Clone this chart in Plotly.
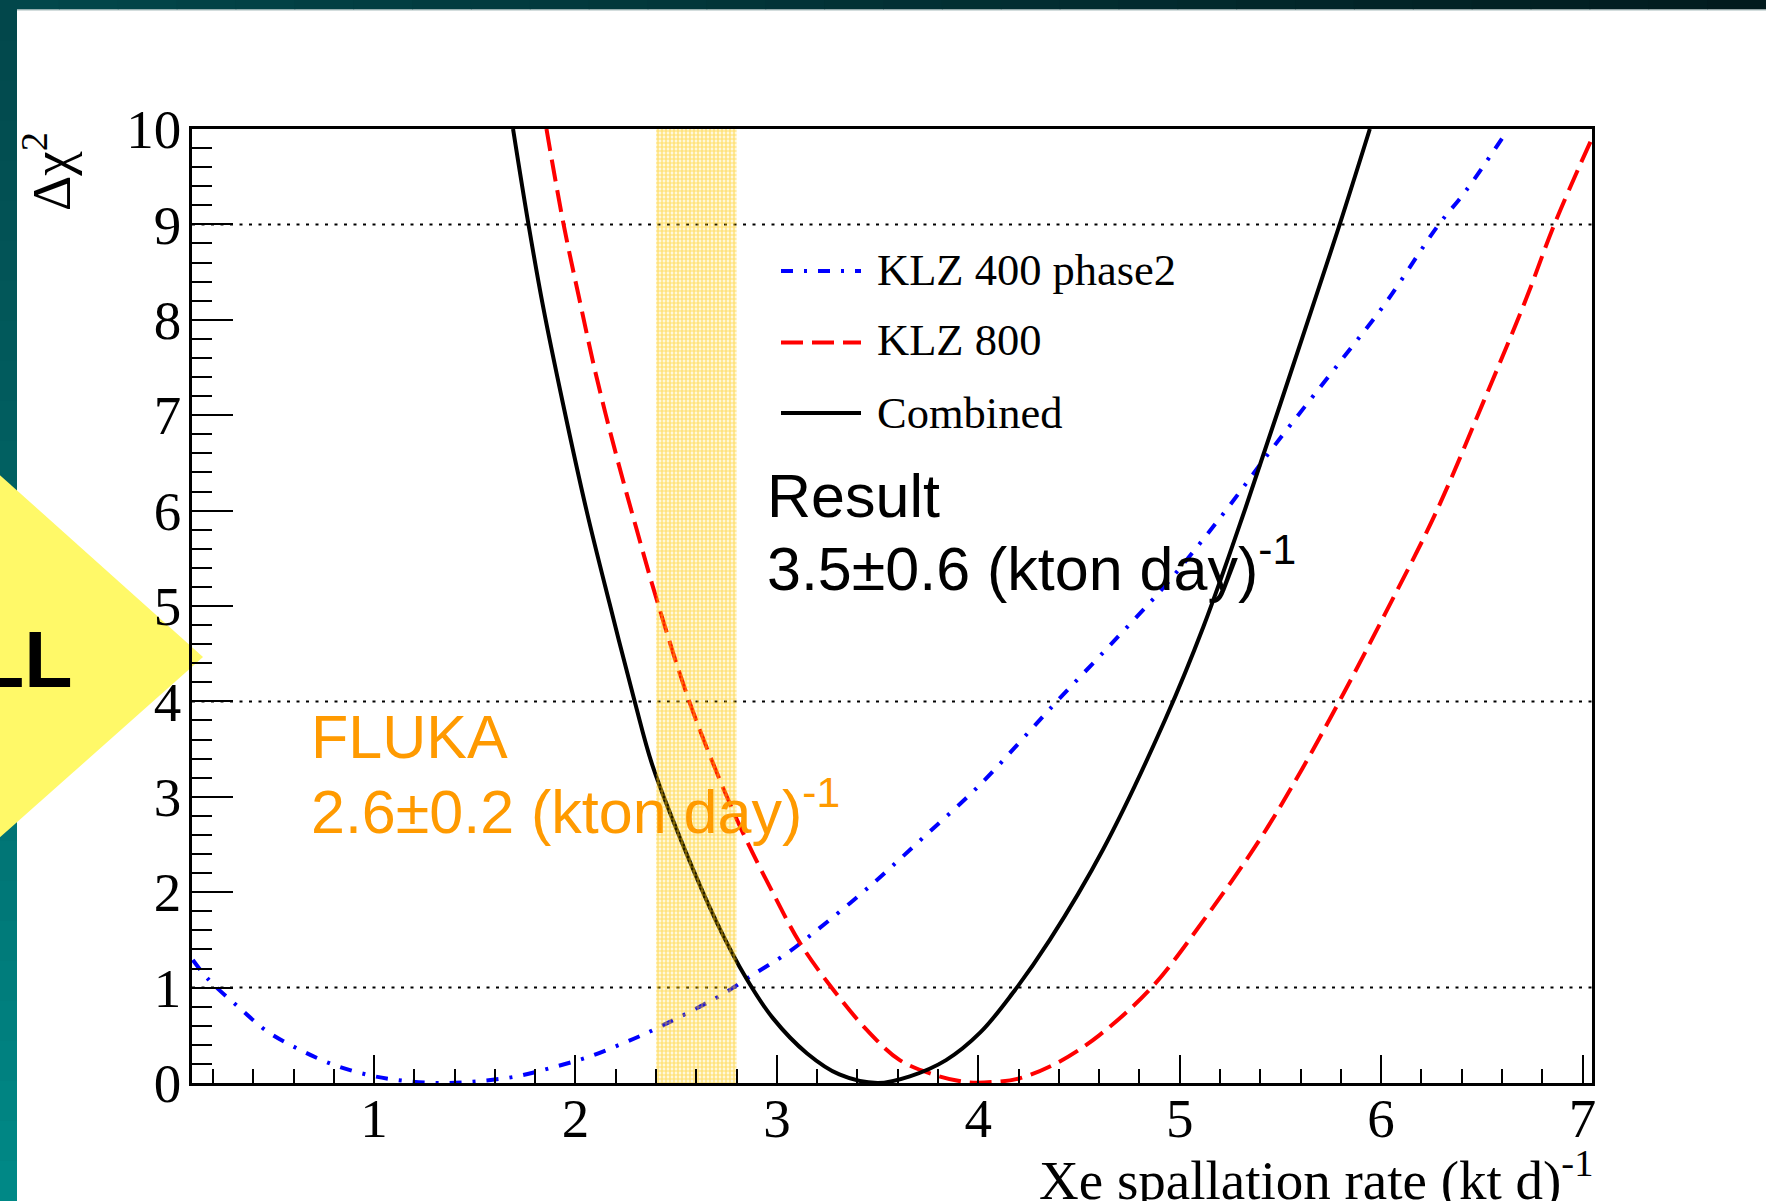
import plotly.graph_objects as go

# Delta chi^2 profiles versus the Xe spallation production rate
klz400_x = [0.10, 0.18, 0.33, 0.47, 0.63, 0.80, 0.98, 1.16, 1.34, 1.52, 1.71, 1.88,
            2.06, 2.24, 2.40, 2.73, 2.87, 3.05, 3.18, 3.46, 3.73, 4.01, 4.26, 4.39,
            4.65, 4.93, 5.21, 5.47, 5.80, 6.02, 6.28, 6.42, 6.60]
klz400_y = [1.29, 1.08, 0.79, 0.54, 0.35, 0.19, 0.08, 0.02, 0.00, 0.02, 0.07, 0.16,
            0.27, 0.42, 0.57, 0.93, 1.12, 1.36, 1.57, 2.06, 2.58, 3.13, 3.70, 4.00,
            4.58, 5.22, 5.95, 6.68, 7.57, 8.17, 8.98, 9.35, 9.90]

klz800_x = [1.856, 1.94, 2.02, 2.10, 2.20, 2.30, 2.41, 2.565, 2.716, 2.832, 2.981,
            3.114, 3.279, 3.445, 3.61, 3.776, 3.94, 4.07, 4.206, 4.40, 4.60, 4.86,
            5.12, 5.40, 5.61, 5.80, 6.02, 6.27, 6.51, 6.72, 6.86, 7.04]
klz800_y = [10.0, 9.01, 8.21, 7.44, 6.60, 5.83, 5.02, 4.00, 3.18, 2.62, 1.99,
            1.47, 0.98, 0.56, 0.24, 0.09, 0.01, 0.01, 0.05, 0.22, 0.50, 1.00,
            1.71, 2.56, 3.30, 4.03, 4.92, 5.97, 7.15, 8.22, 9.00, 9.87]

combined_x = [1.69, 1.765, 1.839, 1.938, 2.055, 2.17, 2.294, 2.385, 2.55, 2.70, 2.85,
              2.98, 3.15, 3.31, 3.50, 3.66, 3.84, 4.01, 4.17, 4.355, 4.62, 4.928,
              5.119, 5.327, 5.50, 5.657, 5.796, 5.944]
combined_y = [10.0, 9.02, 8.14, 7.12, 6.00, 5.02, 4.00, 3.31, 2.41, 1.69, 1.09,
              0.68, 0.31, 0.09, 0.00, 0.07, 0.24, 0.53, 0.94, 1.50, 2.45, 3.81,
              4.79, 6.03, 7.12, 8.12, 9.01, 10.0]

sigma_levels = [1, 4, 9]
legend_names = ["KLZ 400 phase2", "KLZ 800", "Combined"]

fluka_rate, fluka_err = 2.6, 0.2
result_rate, result_err = 3.5, 0.6

X_RANGE = [0.096, 7.047]
Y_RANGE = [0, 10]

# canvas / frame geometry (pixels)
FIG_W, FIG_H = 1766, 1201
PL, PR, PT, PB = 192, 1592, 129, 1083


def px(X):
    return (X - PL) / (PR - PL)


def py(Y):
    return (PB - Y) / (PB - PT)


SERIF = "Liberation Serif, Times New Roman, serif"
SANS = "Liberation Sans, Arial, Helvetica, sans-serif"
ORANGE = "#FF9A00"

BLUE_DASH = "12px,11px,3px,11px"
RED_DASH = "22px,9px"
styles = [
    dict(color="#0000FF", width=4, dash=BLUE_DASH),
    dict(color="#FF0000", width=4, dash=RED_DASH),
    dict(color="#000000", width=4, dash="solid"),
]

fig = go.Figure()

for (xs, ys), st, name in zip(
    [(klz400_x, klz400_y), (klz800_x, klz800_y), (combined_x, combined_y)],
    styles, legend_names,
):
    fig.add_trace(go.Scatter(
        x=xs, y=ys, mode="lines", name=name, showlegend=False, hoverinfo="skip",
        line=dict(shape="spline", smoothing=1.0, **st),
    ))

# FLUKA prediction band (dotted fill)
lo, hi = fluka_rate - fluka_err, fluka_rate + fluka_err
fig.add_trace(go.Scatter(
    x=[lo, hi, hi, lo, lo],
    y=[Y_RANGE[0], Y_RANGE[0], Y_RANGE[1], Y_RANGE[1], Y_RANGE[0]],
    mode="lines", fill="toself", showlegend=False, hoverinfo="skip",
    line=dict(width=0, color="rgba(0,0,0,0)"),
    fillcolor="rgba(0,0,0,0)",
    fillpattern=dict(shape=".", fgcolor="#FFC800", bgcolor="rgba(255,255,255,0)",
                     size=4, solidity=0.7),
))

shapes = []


def hex_mix(c1, c2, t):
    a = [int(c1[i:i + 2], 16) for i in (1, 3, 5)]
    b = [int(c2[i:i + 2], 16) for i in (1, 3, 5)]
    return "#%02x%02x%02x" % tuple(round(a[k] + (b[k] - a[k]) * t) for k in range(3))


# slide frame: dark top bar and teal left bar
N = 30
for i in range(N):
    x0 = FIG_W * i / N
    x1 = FIG_W * (i + 1) / N + 1
    shapes.append(dict(type="rect", xref="paper", yref="paper",
                       x0=px(x0), x1=px(x1), y0=py(0), y1=py(9.5),
                       line=dict(width=0), fillcolor=hex_mix("#02474b", "#021b1e", i / (N - 1)),
                       layer="below"))
shapes.append(dict(type="line", xref="paper", yref="paper", x0=px(17), x1=px(FIG_W),
                   y0=py(10), y1=py(10), line=dict(color="#a8bcbc", width=1), layer="below"))
for i in range(N):
    y0 = FIG_H * i / N
    y1 = FIG_H * (i + 1) / N + 1
    shapes.append(dict(type="rect", xref="paper", yref="paper",
                       x0=px(0), x1=px(17), y0=py(y0), y1=py(y1),
                       line=dict(width=0), fillcolor=hex_mix("#02474b", "#008886", i / (N - 1)),
                       layer="below"))

# yellow slide marker on the left edge
shapes.append(dict(
    type="path", xref="paper", yref="paper", layer="below",
    path="M %f,%f L %f,%f L %f,%f Z" % (px(-200), py(296), px(203), py(657), px(-200), py(1015)),
    fillcolor="#FFF968", line=dict(width=0),
))

# reference levels
for lvl in sigma_levels:
    shapes.append(dict(type="line", xref="paper", yref="y", x0=0, x1=1, y0=lvl, y1=lvl,
                       line=dict(color="black", width=2, dash="3px,6.5px"), layer="below"))

# legend samples
legend_rows = [271, 342.5, 413]
for st, ry in zip(styles, legend_rows):
    shapes.append(dict(type="line", xref="paper", yref="paper",
                       x0=px(781), x1=px(861), y0=py(ry), y1=py(ry),
                       line=st, layer="above"))


def ann(text, X, Y, xanchor, yanchor, size, family, color="black", **kw):
    d = dict(text=text, xref="paper", yref="paper", x=px(X), y=py(Y),
             xanchor=xanchor, yanchor=yanchor, showarrow=False,
             font=dict(family=family, size=size, color=color),
             borderpad=0, borderwidth=0)
    d.update(kw)
    return d


annotations = []
legend_base = [285, 355, 428.3]
for name, b in zip(legend_names, legend_base):
    annotations.append(ann(name, 877, b + 0.216 * 44.5, "left", "bottom", 44.5, SERIF))

annotations += [
    ann("Result", 767, 517 + 0.212 * 61, "left", "bottom", 61, SANS),
    ann("%.1f±%.1f (kton day)<sup>-1</sup>" % (result_rate, result_err),
        767, 590 + 0.212 * 61, "left", "bottom", 61, SANS),
    ann("FLUKA", 311, 758 + 0.212 * 61, "left", "bottom", 61, SANS, ORANGE),
    ann("%.1f±%.1f (kton day)<sup>-1</sup>" % (fluka_rate, fluka_err),
        311, 833 + 0.212 * 61, "left", "bottom", 61, SANS, ORANGE),
    ann("Xe spallation rate (kt d)<sup>-1</sup>", 1593, 1199 + 0.216 * 55,
        "right", "bottom", 55, SERIF),
    ann("Δχ<sup>2</sup>", 48, 172, "center", "middle", 55, SERIF, textangle=-90),
]
annotations.append(dict(
    text="LL", xref="paper", yref="paper", x=px(72.6), y=py(687.3 + 0.212 * 79),
    xanchor="right", yanchor="bottom", showarrow=False, borderpad=0, borderwidth=0,
    font=dict(family=SANS, size=79, color="black", weight="bold"),
))

tick_font = dict(family=SERIF, size=55, color="black")

fig.update_layout(
    width=FIG_W, height=FIG_H,
    margin=dict(l=PL, r=FIG_W - PR, t=PT, b=FIG_H - PB, pad=0),
    paper_bgcolor="white", plot_bgcolor="rgba(0,0,0,0)",
    showlegend=False,
    shapes=shapes, annotations=annotations,
    xaxis=dict(
        range=X_RANGE, tick0=0, dtick=1, ticks="inside", ticklen=28, tickwidth=2,
        tickcolor="black", showline=True, linewidth=2.5, linecolor="black", mirror=True,
        showgrid=False, zeroline=False, tickfont=tick_font, ticklabelstandoff=-15,
        minor=dict(ticks="inside", ticklen=14, tickwidth=2, tickcolor="black",
                   tick0=0, dtick=0.2, showgrid=False),
    ),
    yaxis=dict(
        range=Y_RANGE, tick0=0, dtick=1, ticks="inside", ticklen=41, tickwidth=2,
        tickcolor="black", showline=True, linewidth=2.5, linecolor="black", mirror=True,
        showgrid=False, zeroline=False, tickfont=tick_font, ticklabelstandoff=-3,
        minor=dict(ticks="inside", ticklen=20, tickwidth=2, tickcolor="black",
                   tick0=0, dtick=0.2, showgrid=False),
    ),
)

fig.write_html("out.html", config=dict(displayModeBar=False))
